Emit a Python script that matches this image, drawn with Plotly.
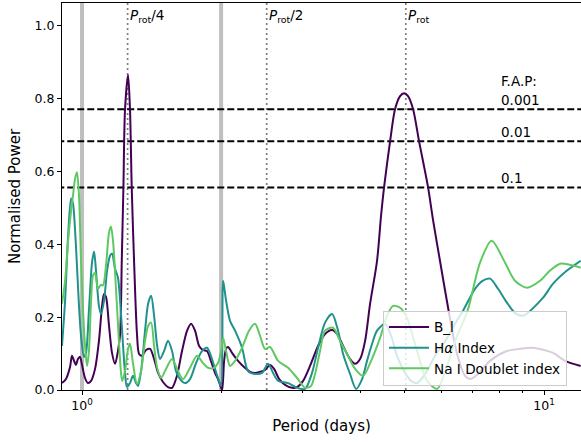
import math
import plotly.graph_objects as go

# ---- periodogram data -------------------------------------------------
bl_period = [0.905, 0.923, 0.942, 0.951, 0.961, 0.970, 0.980, 0.990, 1.000, 1.015,
             1.030, 1.046, 1.067, 1.088, 1.105, 1.116, 1.127, 1.144, 1.161, 1.179,
             1.196, 1.209, 1.219, 1.229, 1.239, 1.258, 1.270, 1.281, 1.296, 1.315,
             1.329, 1.349, 1.376, 1.404, 1.432, 1.461, 1.497, 1.535, 1.566, 1.605,
             1.646, 1.688, 1.722, 1.756, 1.792, 1.827, 1.864, 1.901, 1.940, 1.969,
             1.990, 2.010, 2.030, 2.050, 2.070, 2.112, 2.176, 2.242, 2.310, 2.368,
             2.428, 2.489, 2.552, 2.604, 2.671, 2.751, 2.849, 2.920, 3.009, 3.115,
             3.242, 3.357, 3.477, 3.564, 3.673, 3.803, 3.899, 3.998, 4.099, 4.202,
             4.350, 4.438, 4.504, 4.642, 4.758, 4.879, 4.977, 5.077, 5.206, 5.364,
             5.611, 5.752, 5.956, 6.198, 6.482, 6.745, 6.915, 7.196, 7.638, 8.31,
             8.87, 9.47, 10.46, 11.10, 12.0]
bl_power = [0.019, 0.030, 0.063, 0.094, 0.080, 0.069, 0.085, 0.091, 0.069, 0.033,
            0.019, 0.025, 0.058, 0.135, 0.231, 0.264, 0.256, 0.176, 0.102, 0.072,
            0.107, 0.154, 0.355, 0.556, 0.771, 0.865, 0.771, 0.556, 0.355, 0.154,
            0.099, 0.094, 0.110, 0.113, 0.085, 0.047, 0.022, 0.008, 0.006, 0.039,
            0.107, 0.163, 0.182, 0.163, 0.121, 0.110, 0.107, 0.080, 0.047, 0.030,
            0.014, 0.0, 0.080, 0.113, 0.118, 0.102, 0.080, 0.063, 0.050, 0.047,
            0.050, 0.055, 0.069, 0.058, 0.030, 0.014, 0.006, 0.008, 0.025, 0.066,
            0.121, 0.154, 0.165, 0.154, 0.121, 0.085, 0.072, 0.085, 0.135, 0.237,
            0.355, 0.479, 0.556, 0.683, 0.771, 0.807, 0.815, 0.807, 0.771, 0.683,
            0.556, 0.466, 0.353, 0.226, 0.099, 0.039, 0.030, 0.044, 0.080, 0.107,
            0.113, 0.116, 0.102, 0.080, 0.066]

ha_period = [0.905, 0.919, 0.933, 0.947, 0.956, 0.966, 0.975, 0.985, 0.995, 1.010,
             1.020, 1.035, 1.051, 1.062, 1.072, 1.088, 1.099, 1.116, 1.133, 1.150,
             1.161, 1.179, 1.196, 1.209, 1.227, 1.239, 1.251, 1.270, 1.289, 1.309,
             1.322, 1.342, 1.369, 1.390, 1.411, 1.432, 1.454, 1.475, 1.505, 1.535,
             1.566, 1.597, 1.630, 1.671, 1.713, 1.765, 1.818, 1.864, 1.901, 1.940,
             1.979, 2.000, 2.020, 2.050, 2.091, 2.144, 2.220, 2.287, 2.368, 2.453,
             2.527, 2.591, 2.657, 2.793, 2.920, 3.039, 3.146, 3.242, 3.357, 3.477,
             3.582, 3.673, 3.803, 3.918, 4.038, 4.138, 4.244, 4.350, 4.527, 4.665,
             4.806, 5.002, 5.155, 5.311, 5.527, 5.810, 6.168, 6.418, 6.678, 7.089,
             7.357, 7.638, 7.951, 8.31, 8.65, 9.00, 9.94, 10.46, 11.21, 12.0]
ha_power = [0.121, 0.245, 0.424, 0.526, 0.512, 0.438, 0.342, 0.231, 0.149, 0.091,
            0.102, 0.218, 0.350, 0.380, 0.328, 0.231, 0.209, 0.245, 0.328, 0.369,
            0.375, 0.333, 0.309, 0.245, 0.121, 0.047, 0.008, 0.019, 0.039, 0.019,
            0.011, 0.052, 0.163, 0.237, 0.259, 0.204, 0.121, 0.085, 0.107, 0.135,
            0.107, 0.052, 0.030, 0.019, 0.030, 0.074, 0.107, 0.116, 0.094, 0.058,
            0.025, 0.011, 0.300, 0.245, 0.190, 0.163, 0.116, 0.052, 0.044, 0.047,
            0.072, 0.047, 0.025, 0.019, 0.006, 0.003, 0.047, 0.116, 0.185, 0.209,
            0.163, 0.099, 0.044, 0.003, 0.030, 0.080, 0.127, 0.163, 0.182, 0.149,
            0.094, 0.047, 0.025, 0.019, 0.044, 0.094, 0.143, 0.182, 0.218, 0.278,
            0.300, 0.306, 0.278, 0.240, 0.212, 0.204, 0.253, 0.292, 0.328, 0.355]

na_period = [0.905, 0.919, 0.933, 0.947, 0.956, 0.966, 0.975, 0.985, 0.995, 1.005,
             1.015, 1.025, 1.035, 1.046, 1.056, 1.067, 1.083, 1.099, 1.110, 1.127,
             1.144, 1.155, 1.167, 1.185, 1.196, 1.209, 1.221, 1.239, 1.258, 1.270,
             1.289, 1.315, 1.342, 1.369, 1.390, 1.411, 1.432, 1.454, 1.482, 1.520,
             1.566, 1.613, 1.654, 1.713, 1.774, 1.827, 1.873, 1.930, 1.969, 2.000,
             2.020, 2.050, 2.091, 2.144, 2.220, 2.298, 2.368, 2.428, 2.489, 2.552,
             2.657, 2.793, 2.920, 3.039, 3.130, 3.194, 3.274, 3.357, 3.494, 3.618,
             3.746, 3.899, 4.058, 4.223, 4.416, 4.572, 4.711, 4.879, 5.051, 5.180,
             5.311, 5.583, 5.868, 6.168, 6.418, 6.830, 7.268, 7.700, 8.23, 8.65,
             9.18, 9.80, 10.30, 10.83, 11.38, 12.0]
na_power = [0.237, 0.300, 0.410, 0.493, 0.534, 0.581, 0.598, 0.534, 0.355, 0.218,
            0.121, 0.066, 0.107, 0.245, 0.314, 0.322, 0.278, 0.289, 0.287, 0.342,
            0.433, 0.449, 0.410, 0.273, 0.182, 0.080, 0.025, 0.052, 0.113, 0.127,
            0.074, 0.017, 0.052, 0.135, 0.176, 0.185, 0.121, 0.061, 0.033, 0.058,
            0.085, 0.052, 0.030, 0.061, 0.094, 0.074, 0.061, 0.061, 0.074, 0.107,
            0.143, 0.107, 0.066, 0.080, 0.116, 0.163, 0.182, 0.149, 0.113, 0.118,
            0.080, 0.061, 0.033, 0.006, 0.011, 0.044, 0.107, 0.163, 0.171, 0.135,
            0.099, 0.058, 0.039, 0.080, 0.143, 0.204, 0.231, 0.226, 0.198, 0.154,
            0.107, 0.025, 0.003, 0.066, 0.135, 0.218, 0.350, 0.410, 0.350, 0.300,
            0.281, 0.300, 0.328, 0.347, 0.344, 0.336]

series_names = ["B_l", "H<i>α</i> Index", "Na I Doublet index"]
series_colors = ["#440154", "#21918c", "#5ec962"]

# rotation period and its harmonics, window aliases, false-alarm levels
prot = 5.02
harmonics = [prot / 4, prot / 2, prot]
harmonic_labels = ["<i>P</i><sub>rot</sub>/4", "<i>P</i><sub>rot</sub>/2", "<i>P</i><sub>rot</sub>"]
alias_periods = [1.0, 2.0]
fap_levels = [0.771, 0.683, 0.556]
fap_labels = ["0.001", "0.01", "0.1"]

x_min, x_max = 0.905, 12.02
y_min, y_max = 0.0, 1.063

FONT = "DejaVu Sans"
fig = go.Figure()

# sampling aliases (thick grey)
for p in alias_periods:
    fig.add_trace(go.Scatter(x=[p, p], y=[y_min, y_max + 0.1], mode="lines",
                             line=dict(color="#bfbfbf", width=4),
                             showlegend=False, hoverinfo="skip"))

# rotation harmonics (dotted)
for p in harmonics:
    fig.add_trace(go.Scatter(x=[p, p], y=[y_min, y_max + 0.1], mode="lines",
                             line=dict(color="#7f7f7f", width=1.7, dash="2px,3px"),
                             showlegend=False, hoverinfo="skip"))

# false-alarm-probability thresholds (dashed)
for lvl in fap_levels:
    fig.add_trace(go.Scatter(x=[0.8, 14], y=[lvl, lvl], mode="lines",
                             line=dict(color="black", width=2, dash="7px,3px"),
                             showlegend=False, hoverinfo="skip"))

# periodograms
for i, (px, py) in enumerate([(bl_period, bl_power), (ha_period, ha_power), (na_period, na_power)]):
    fig.add_trace(go.Scatter(x=px, y=py, mode="lines", name=series_names[i],
                             legendgroup=f"g{i}",
                             line=dict(color=series_colors[i], width=2,
                                       shape="spline", smoothing=0.8)))

annotations = []
for p, lab in zip(harmonics, harmonic_labels):
    annotations.append(dict(x=math.log10(p), y=0.966, xref="x", yref="paper",
                            text=lab, showarrow=False, xanchor="left", yanchor="middle",
                            font=dict(family=FONT, size=13.5, color="black")))
annotations.append(dict(x=math.log10(8.0), y=0.848, xref="x", yref="y", text="F.A.P:",
                        showarrow=False, xanchor="left", yanchor="middle",
                        font=dict(family=FONT, size=13.5, color="black")))
for lvl, lab in zip(fap_levels, fap_labels):
    annotations.append(dict(x=math.log10(8.0), y=lvl + 0.026, xref="x", yref="y", text=lab,
                            showarrow=False, xanchor="left", yanchor="middle",
                            font=dict(family=FONT, size=13.5, color="black")))

fig.update_layout(
    width=581, height=442,
    margin=dict(l=62, r=0, t=3, b=52),
    paper_bgcolor="white", plot_bgcolor="white",
    font=dict(family=FONT, size=12.5, color="black"),
    annotations=annotations,
    legend=dict(x=0.6185, y=0.205, xanchor="left", yanchor="top",
                bgcolor="rgba(255,255,255,0.8)", bordercolor="#cccccc", borderwidth=1,
                tracegroupgap=0, itemwidth=40,
                font=dict(family=FONT, size=13.6)),
    xaxis=dict(type="log", range=[math.log10(x_min), math.log10(x_max)],
               showgrid=False, zeroline=False,
               showline=True, linecolor="black", linewidth=1, mirror=True,
               ticks="outside", ticklen=4, tickwidth=1, tickcolor="black",
               tickvals=[1, 10], ticktext=["10<sup>0</sup>", "10<sup>1</sup>"],
               minor=dict(ticks="outside", ticklen=2, tickwidth=1, tickcolor="black",
                          tickvals=[2, 3, 4, 5, 6, 7, 8, 9]),
               title=dict(text="Period (days)", standoff=8)),
    yaxis=dict(range=[y_min, y_max], showgrid=False, zeroline=False,
               showline=True, linecolor="black", linewidth=1,
               ticks="outside", ticklen=4, tickwidth=1, tickcolor="black",
               tickvals=[0, 0.2, 0.4, 0.6, 0.8, 1.0],
               ticktext=["0.0", "0.2", "0.4", "0.6", "0.8", "1.0"],
               title=dict(text="Normalised Power", standoff=10)),
)

fig.write_html("out.html")
